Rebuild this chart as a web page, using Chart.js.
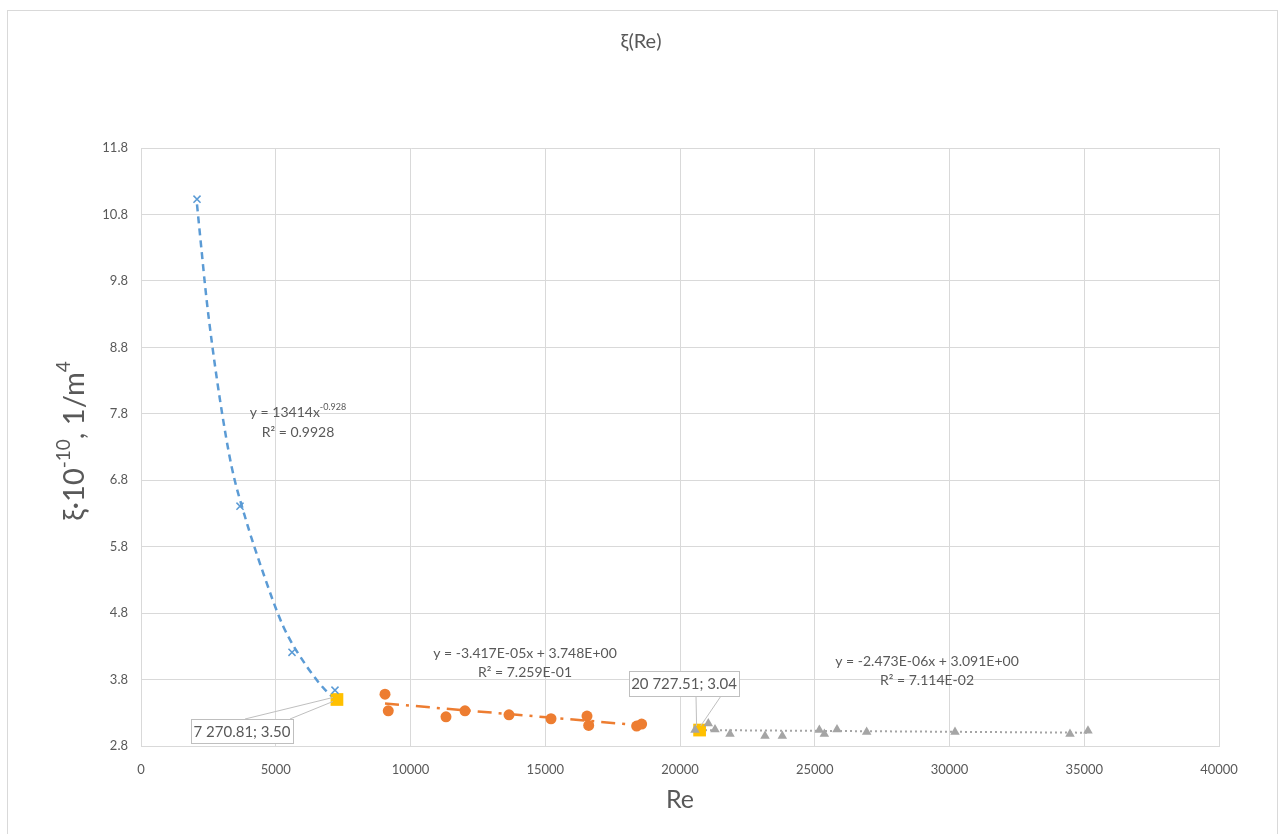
<!DOCTYPE html>
<html>
<head>
<meta charset="utf-8">
<script src="https://cdn.jsdelivr.net/npm/chart.js@4"></script>
<style>
  body { margin: 0; background: #fff; }
  canvas { display: block; }
</style>
</head>
<body>
<canvas id="chart" width="1279" height="834"></canvas>
<script>
const blueX = [2078, 3673, 5603, 7198]
const blueY = [11.03, 6.41, 4.21, 3.64]

const orangeX = [9054, 9175, 11317, 12022, 13655, 15213, 16549, 16612, 18391, 18577]
const orangeY = [3.58, 3.33, 3.24, 3.33, 3.27, 3.21, 3.25, 3.11, 3.10, 3.13]

const grayX = [20557, 21050, 21299, 21855, 23154, 23797, 25170, 25356, 25826, 26926, 30204, 34471, 35138]
const grayY = [3.04, 3.14, 3.05, 2.98, 2.95, 2.95, 3.04, 2.98, 3.05, 3.01, 3.01, 2.98, 3.03]

const markX = [7270.81, 20727.51]
const markY = [3.50, 3.04]

// trend lines as traced on the picture
const powerTrendX = [2078, 2252, 2375, 2523, 2931, 3365, 3859, 4538, 5280, 6148, 7013, 7270]
const powerTrendY = [10.95, 10.24, 9.74, 9.21, 8.01, 7.00, 6.25, 5.40, 4.60, 4.00, 3.57, 3.50]
const orangeTrendX = [9054, 18577]
const orangeTrendY = [3.44, 3.11]
const grayTrendX = [20557, 35138]
const grayTrendY = [3.04, 3.00]

const yTicks = [2.8, 3.8, 4.8, 5.8, 6.8, 7.8, 8.8, 9.8, 10.8, 11.8]
const xTicks = [0, 5000, 10000, 15000, 20000, 25000, 30000, 35000, 40000]

const textGray = '#595959'
const gridGray = '#d9d9d9'

const pts = (xs, ys) => xs.map((x, i) => ({ x, y: ys[i] }))

// draws runs of [text, isSuperscript] centred on cx
const drawRich = (ctx, parts, cx, cy, size) => {
  const supSize = Math.round(size * 0.65)
  const widths = parts.map(p => {
    ctx.font = (p[1] ? supSize : size) + 'px Lato'
    return ctx.measureText(p[0]).width
  })
  let x = cx - widths.reduce((a, b) => a + b, 0) / 2
  ctx.textAlign = 'left'
  parts.forEach((p, i) => {
    ctx.font = (p[1] ? supSize : size) + 'px Lato'
    ctx.fillText(p[0], x, p[1] ? cy - size * 0.38 : cy)
    x += widths[i]
  })
  ctx.textAlign = 'center'
}

const decor = {
  id: 'decor',
  beforeDraw(chart) {
    const ctx = chart.ctx
    ctx.save()
    ctx.fillStyle = '#fff'
    ctx.fillRect(0, 0, chart.width, chart.height)
    ctx.strokeStyle = gridGray
    ctx.lineWidth = 1
    ctx.strokeRect(7.5, 10.5, 1270, 840)
    ctx.restore()
  },
  afterDraw(chart) {
    const ctx = chart.ctx
    ctx.save()
    ctx.fillStyle = textGray
    ctx.textAlign = 'center'
    ctx.textBaseline = 'middle'

    // title
    ctx.font = '20px Lato'
    ctx.fillText('ξ(Re)', 641, 42)

    // axis titles
    ctx.font = '25px Lato'
    ctx.fillText('Re', 680, 800)
    ctx.save()
    ctx.translate(75, 441)
    ctx.rotate(-Math.PI / 2)
    drawRich(ctx, [['ξ·10', false], ['-10', true], [', 1/m', false], ['4', true]], 0, 0, 29)
    ctx.restore()

    // trend equations
    ctx.font = '14px Lato'
    drawRich(ctx, [['y = 13414x', false], ['-0.928', true]], 298, 412, 14)
    ctx.font = '14px Lato'
    ctx.fillText('R² = 0.9928', 298, 432)
    ctx.fillText('y = -3.417E-05x + 3.748E+00', 525, 653)
    ctx.fillText('R² = 7.259E-01', 525, 672)
    ctx.fillText('y = -2.473E-06x + 3.091E+00', 927, 661)
    ctx.fillText('R² = 7.114E-02', 927, 680)

    // callouts for the highlighted points
    const meta = chart.getDatasetMeta(3)
    const p1 = meta.data[0]
    const p2 = meta.data[1]
    const callout = (box, tips, label) => {
      ctx.strokeStyle = '#bfbfbf'
      ctx.lineWidth = 1
      ctx.beginPath()
      tips.forEach(t => {
        ctx.moveTo(t[0], t[1])
        ctx.lineTo(t[2], t[3])
      })
      ctx.stroke()
      ctx.fillStyle = '#fff'
      ctx.fillRect(box[0], box[1], box[2], box[3])
      ctx.strokeRect(box[0] + 0.5, box[1] + 0.5, box[2], box[3])
      ctx.fillStyle = textGray
      ctx.font = '15px Lato'
      ctx.fillText(label, box[0] + box[2] / 2, box[1] + box[3] / 2 + 1)
    }
    callout([191, 719, 102, 24], [[245, 719, p1.x - 4, p1.y - 2], [290, 719, p1.x - 4, p1.y + 2]], '7 270.81; 3.50')
    callout([629, 671, 110, 25], [[696, 696, p2.x - 3, p2.y - 4], [721, 696, p2.x + 1, p2.y - 4]], '20 727.51; 3.04')

    ctx.restore()
  }
}

const config = {
  type: 'scatter',
  data: {
    datasets: [
      {
        label: 'power trend',
        data: pts(powerTrendX, powerTrendY),
        showLine: true,
        borderColor: '#5b9bd5',
        borderWidth: 2.5,
        borderDash: [7, 5],
        cubicInterpolationMode: 'monotone',
        pointRadius: 0,
        order: 10
      },
      {
        label: 'orange trend',
        data: pts(orangeTrendX, orangeTrendY),
        showLine: true,
        borderColor: '#ed7d31',
        borderWidth: 2.5,
        borderDash: [14, 7, 3, 7],
        pointRadius: 0,
        order: 10
      },
      {
        label: 'gray trend',
        data: pts(grayTrendX, grayTrendY),
        showLine: true,
        borderColor: '#a5a5a5',
        borderWidth: 2,
        borderDash: [2, 3],
        pointRadius: 0,
        order: 10
      },
      {
        label: 'marks',
        data: pts(markX, markY),
        pointStyle: 'rect',
        pointRadius: 9,
        backgroundColor: '#ffc000',
        borderColor: '#ffc000',
        borderWidth: 0,
        order: 2
      },
      {
        label: 'blue',
        data: pts(blueX, blueY),
        pointStyle: 'crossRot',
        pointRadius: 5,
        borderColor: '#5b9bd5',
        borderWidth: 1.5,
        order: 1
      },
      {
        label: 'orange',
        data: pts(orangeX, orangeY),
        pointStyle: 'circle',
        pointRadius: 5.5,
        backgroundColor: '#ed7d31',
        borderColor: '#ed7d31',
        borderWidth: 0,
        order: 1
      },
      {
        label: 'gray',
        data: pts(grayX, grayY),
        pointStyle: 'triangle',
        pointRadius: 5.5,
        backgroundColor: '#a5a5a5',
        borderColor: '#a5a5a5',
        borderWidth: 0,
        order: 0
      }
    ]
  },
  options: {
    responsive: false,
    animation: false,
    devicePixelRatio: 1,
    layout: { padding: { top: 148, right: 60, left: 0, bottom: 0 } },
    plugins: {
      legend: { display: false },
      tooltip: { enabled: false }
    },
    scales: {
      x: {
        type: 'linear',
        min: 0,
        max: 40000,
        afterBuildTicks: s => { s.ticks = xTicks.map(v => ({ value: v })) },
        afterFit: s => { s.height = 88 },
        grid: { color: gridGray, drawTicks: false },
        border: { color: gridGray },
        ticks: {
          color: textGray,
          font: { family: 'Lato', size: 13 },
          padding: 16,
          maxRotation: 0,
          callback: v => String(v)
        }
      },
      y: {
        type: 'linear',
        min: 2.8,
        max: 11.8,
        afterBuildTicks: s => { s.ticks = yTicks.map(v => ({ value: v })) },
        afterFit: s => { s.width = 141 },
        grid: { color: gridGray, drawTicks: false },
        border: { color: gridGray },
        ticks: {
          color: textGray,
          font: { family: 'Lato', size: 13 },
          padding: 13,
          callback: v => v.toFixed(1)
        }
      }
    }
  },
  plugins: [decor]
}

new Chart(document.getElementById('chart'), config)
</script>
</body>
</html>
